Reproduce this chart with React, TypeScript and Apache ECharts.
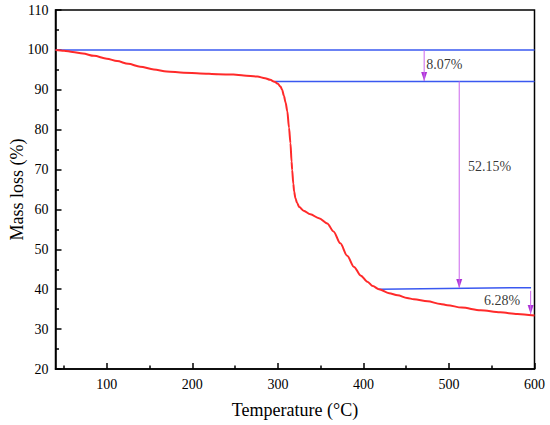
import React, { useEffect, useRef } from "react";
import * as echarts from "echarts";

const temperature = [
  40, 50, 60, 72, 85, 100, 112, 125, 139, 155, 170, 190, 209, 230, 248, 260, 276, 285, 291, 296,
  300, 303, 305, 307, 309, 311, 313, 314.7, 316, 316.7, 318, 319, 320.5, 322.5, 325, 330, 338, 348,
  357.7, 365, 373, 381, 389, 397, 404.6, 411, 418, 430, 440, 451, 459, 475, 490, 498, 515, 537, 560,
  580, 600,
];
const massLoss = [
  100, 99.8, 99.5, 99.1, 98.5, 97.8, 97.2, 96.5, 95.8, 95.1, 94.6, 94.3, 94.1, 93.9, 93.8, 93.6, 93.3,
  92.9, 92.5, 92.0, 91.5, 90.8, 90.0, 88.5, 86.8, 84.6, 80.5, 76.6, 72, 69.9, 66.5, 64.5, 62.8, 61.6,
  60.6, 59.7, 58.8, 57.8, 56.5, 54.5, 51.5, 48.4, 45.6, 43.4, 41.9, 40.8, 40.0, 39.0, 38.5, 37.8, 37.5,
  37.0, 36.3, 36.0, 35.4, 34.7, 34.2, 33.8, 33.4,
];

const baselines = [
  [[40, 100], [600, 100]],
  [[296, 92.1], [600, 92.1]],
  [[418, 40.0], [596, 40.4]],
];

const arrowX = [471, 512, 595.5];
const arrowFrom = [100, 92.1, 39.6];
const arrowTo = [92.2, 40.3, 33.8];

const annotationText = ["8.07%", "52.15%", "6.28%"];
const annotationX = [472.9, 521.7, 540.5];
const annotationY = [96.4, 70.7, 37.1];

const xMajorTicks = [100, 200, 300, 400, 500, 600];
const xMinorTicks = [50, 150, 250, 350, 450, 550];

const FONT = "Liberation Serif";

export default function App() {
  const ref = useRef<HTMLDivElement>(null);
  useEffect(() => {
    document.body.style.margin = "0";
    const chart = echarts.init(ref.current!, null, { renderer: "svg" });
    const series: any[] = [];
    baselines.forEach((b) => {
      series.push({
        type: "line",
        data: b,
        symbol: "none",
        lineStyle: { color: "#3a58f0", width: 1.5 },
        silent: true,
      });
    });
    arrowX.forEach((x, i) => {
      series.push({
        type: "line",
        data: [
          [x, arrowFrom[i]],
          [x, arrowTo[i]],
        ],
        symbol: "none",
        lineStyle: { color: "#cc66ee", width: 1 },
        silent: true,
      });
    });
    series.push({
      type: "scatter",
      data: arrowX.map((x, i) => [x, arrowTo[i]]),
      symbol: "triangle",
      symbolRotate: 180,
      symbolSize: [6, 9],
      symbolOffset: [0, -4.5],
      itemStyle: { color: "#9900cc" },
      silent: true,
    });
    series.push({
      type: "line",
      data: temperature.map((t, i) => [t, massLoss[i]]),
      symbol: "none",
      smooth: 0.3,
      smoothMonotone: "x",
      lineStyle: { color: "#ff2a2a", width: 2 },
      silent: true,
    });
    series.push({
      type: "scatter",
      data: annotationText.map((s, i) => [annotationX[i], annotationY[i], s]),
      symbolSize: 1,
      itemStyle: { color: "transparent" },
      label: {
        show: true,
        position: "right",
        distance: 0,
        formatter: (p: any) => p.data[2],
        color: "#000",
        fontSize: 14,
        fontFamily: FONT,
      },
      silent: true,
    });

    chart.setOption({
      animation: false,
      grid: {
        left: 55.5,
        right: 15.5,
        top: 10,
        bottom: 56,
        containLabel: false,
        outerBoundsMode: "none",
        show: true,
        borderColor: "#000",
        borderWidth: 1.5,
        backgroundColor: "transparent",
      },
      xAxis: [
        {
          type: "value",
          min: 40,
          max: 600,
          name: "Temperature (°C)",
          nameLocation: "middle",
          nameGap: 32,
          nameMoveOverlap: false,
          nameTextStyle: { fontFamily: FONT, fontSize: 18, color: "#000" },
          axisLine: { show: true, onZero: false, lineStyle: { color: "#000", width: 1.5 } },
          axisTick: {
            show: true,
            inside: true,
            length: 6,
            customValues: xMajorTicks,
            lineStyle: { color: "#000", width: 1.5 },
          },
          axisLabel: {
            show: true,
            customValues: xMajorTicks,
            margin: 8,
            fontFamily: FONT,
            fontSize: 14,
            color: "#000",
          },
          splitLine: { show: false },
        },
        {
          type: "value",
          min: 40,
          max: 600,
          position: "bottom",
          axisLine: { show: false },
          axisTick: {
            show: true,
            inside: true,
            length: 3.5,
            customValues: xMinorTicks,
            lineStyle: { color: "#000", width: 1.5 },
          },
          axisLabel: { show: false },
          splitLine: { show: false },
        },
      ],
      yAxis: {
        type: "value",
        min: 20,
        max: 110,
        interval: 10,
        name: "Mass loss (%)",
        nameLocation: "middle",
        nameGap: 30,
        nameMoveOverlap: false,
        nameTextStyle: { fontFamily: FONT, fontSize: 18, color: "#000" },
        axisLine: { show: true, onZero: false, lineStyle: { color: "#000", width: 1.5 } },
        axisTick: { show: true, inside: true, length: 6, lineStyle: { color: "#000", width: 1.5 } },
        minorTick: { show: true, splitNumber: 2, length: 3.5, lineStyle: { color: "#000", width: 1.5 } },
        axisLabel: { margin: 7, fontFamily: FONT, fontSize: 14, color: "#000" },
        splitLine: { show: false },
        minorSplitLine: { show: false },
      },
      series,
    });
    return () => chart.dispose();
  }, []);
  return <div ref={ref} style={{ width: 550, height: 425 }} />;
}
